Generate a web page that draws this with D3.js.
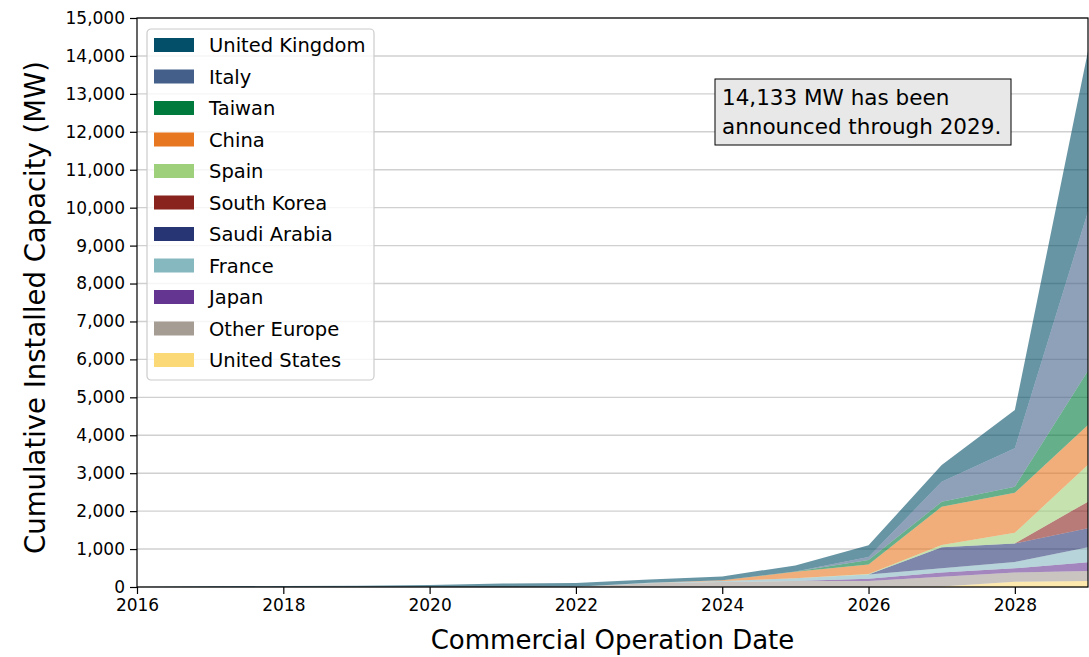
<!DOCTYPE html>
<html>
<head>
<meta charset="utf-8">
<script src="https://cdn.jsdelivr.net/npm/d3@7"></script>
<style>
  body { margin: 0; background: #fff; }
  svg { font-family: "DejaVu Sans", sans-serif; }
</style>
</head>
<body>
<svg id="chart"></svg>
<script>
const width = 1089;
const height = 657;

// years on the x axis
const years = [2016, 2017, 2018, 2019, 2020, 2021, 2022, 2023, 2024, 2025, 2026, 2027, 2028, 2029];

// stack order, bottom first
const countries = ['United States', 'Other Europe', 'Japan', 'France', 'Saudi Arabia', 'South Korea',
  'Spain', 'China', 'Taiwan', 'Italy', 'United Kingdom'];

// MW per country, per year (cumulative by country)
const unitedStates = [0, 0, 0, 0, 0, 0, 0, 0, 0, 0, 0, 10, 140, 160];
const otherEurope = [0, 0, 0, 0, 0, 0, 5, 100, 130, 160, 160, 260, 240, 260];
const japan = [0, 0, 0, 0, 0, 0, 0, 0, 0, 0, 60, 110, 115, 230];
const france = [0, 0, 0, 0, 0, 0, 0, 10, 30, 70, 110, 115, 165, 400];
const saudiArabia = [0, 0, 0, 0, 0, 0, 0, 0, 0, 0, 0, 550, 490, 500];
const southKorea = [0, 0, 0, 0, 0, 0, 0, 0, 0, 0, 0, 0, 0, 700];
const spain = [0, 0, 0, 0, 0, 0, 0, 0, 0, 0, 10, 60, 280, 970];
const china = [0, 0, 0, 0, 0, 0, 0, 0, 20, 170, 250, 1010, 1055, 1050];
const taiwan = [0, 0, 0, 0, 0, 0, 0, 0, 0, 10, 120, 130, 160, 1430];
const italy = [0, 0, 0, 0, 0, 0, 0, 0, 0, 0, 80, 530, 1010, 4200];
const unitedKingdom = [0, 20, 25, 30, 50, 90, 100, 90, 100, 160, 310, 440, 1010, 4233];

const series = [unitedStates, otherEurope, japan, france, saudiArabia, southKorea,
  spain, china, taiwan, italy, unitedKingdom];

const colors = ['#fcd977', '#a59c94', '#643591', '#86b8bf', '#283575', '#88231d',
  '#9ecf7a', '#e87722', '#007a3d', '#44608a', '#034e68'];

const xTicks = [2016, 2018, 2020, 2022, 2024, 2026, 2028];
const yTicks = d3.range(0, 15001, 1000);
const note = ['14,133 MW has been', 'announced through 2029.'];

const margin = { top: 18, right: 1, bottom: 70, left: 137 };
const plotW = width - margin.left - margin.right;
const plotH = height - margin.top - margin.bottom;

const svg = d3.select('#chart')
  .attr('width', width)
  .attr('height', height);

const g = svg.append('g')
  .attr('transform', `translate(${margin.left}, ${margin.top})`);

const x = d3.scaleLinear().domain([2016, 2029]).range([0, plotW]);
const y = d3.scaleLinear().domain([0, 15000]).range([plotH, 0]);

// grid first, areas are see-through
g.append('g')
  .selectAll('line')
  .data(yTicks)
  .enter()
  .append('line')
  .attr('x1', 0)
  .attr('x2', plotW)
  .attr('y1', d => y(d))
  .attr('y2', d => y(d))
  .attr('stroke', '#b0b0b0')
  .attr('stroke-opacity', 0.6)
  .attr('stroke-width', 1.4);

// stack
const table = years.map((yr, i) => {
  const row = { year: yr };
  countries.forEach((c, j) => { row[c] = series[j][i]; });
  return row;
});
const stacked = d3.stack().keys(countries)(table);

const area = d3.area()
  .x(d => x(d.data.year))
  .y0(d => y(d[0]))
  .y1(d => y(d[1]));

g.append('g')
  .selectAll('path')
  .data(stacked)
  .enter()
  .append('path')
  .attr('d', area)
  .attr('fill', (d, i) => colors[i])
  .attr('fill-opacity', 0.6);

// axes
const xAxis = d3.axisBottom(x).tickValues(xTicks).tickFormat(d3.format('d')).tickSize(7).tickPadding(5);
const yAxis = d3.axisLeft(y).tickValues(yTicks).tickFormat(d3.format(',')).tickSize(7).tickPadding(5);

const gx = g.append('g').attr('transform', `translate(0, ${plotH})`).call(xAxis);
const gy = g.append('g').call(yAxis);
[gx, gy].forEach(a => {
  a.select('.domain').remove();
  a.selectAll('text').attr('font-size', 17).attr('fill', '#000').attr('font-family', '"DejaVu Sans", sans-serif');
  a.selectAll('line').attr('stroke', '#000').attr('stroke-width', 1.2);
});

// frame
g.append('rect')
  .attr('width', plotW)
  .attr('height', plotH)
  .attr('fill', 'none')
  .attr('stroke', '#000')
  .attr('stroke-width', 1.2);

// axis titles
svg.append('text')
  .attr('x', margin.left + plotW / 2)
  .attr('y', 649)
  .attr('text-anchor', 'middle')
  .attr('font-size', 26)
  .text('Commercial Operation Date');

svg.append('text')
  .attr('transform', `translate(45, ${margin.top + plotH / 2 + 5}) rotate(-90)`)
  .attr('text-anchor', 'middle')
  .attr('font-size', 27.5)
  .text('Cumulative Installed Capacity (MW)');

// legend, reversed order
const legend = g.append('g').attr('transform', 'translate(10, 11)');
legend.append('rect')
  .attr('width', 227)
  .attr('height', 351)
  .attr('rx', 4)
  .attr('fill', '#fff')
  .attr('fill-opacity', 0.8)
  .attr('stroke', '#cccccc')
  .attr('stroke-width', 1.2);

const items = countries.map((c, i) => ({ name: c, color: colors[i] })).reverse();
const item = legend.selectAll('g.item')
  .data(items)
  .enter()
  .append('g')
  .attr('class', 'item')
  .attr('transform', (d, i) => `translate(0, ${9 + i * 31.5})`);
item.append('rect')
  .attr('x', 7)
  .attr('y', 0)
  .attr('width', 40)
  .attr('height', 14)
  .attr('fill', d => d.color);
item.append('text')
  .attr('x', 62)
  .attr('y', 14)
  .attr('font-size', 19.5)
  .text(d => d.name);

// note box
const box = svg.append('g').attr('transform', 'translate(715, 79)');
box.append('rect')
  .attr('width', 296)
  .attr('height', 66)
  .attr('fill', '#e8e8e8')
  .attr('stroke', '#000')
  .attr('stroke-width', 1);
box.selectAll('text')
  .data(note)
  .enter()
  .append('text')
  .attr('x', 7)
  .attr('y', (d, i) => 26 + i * 29)
  .attr('font-size', 21.5)
  .text(d => d);
</script>
</body>
</html>
